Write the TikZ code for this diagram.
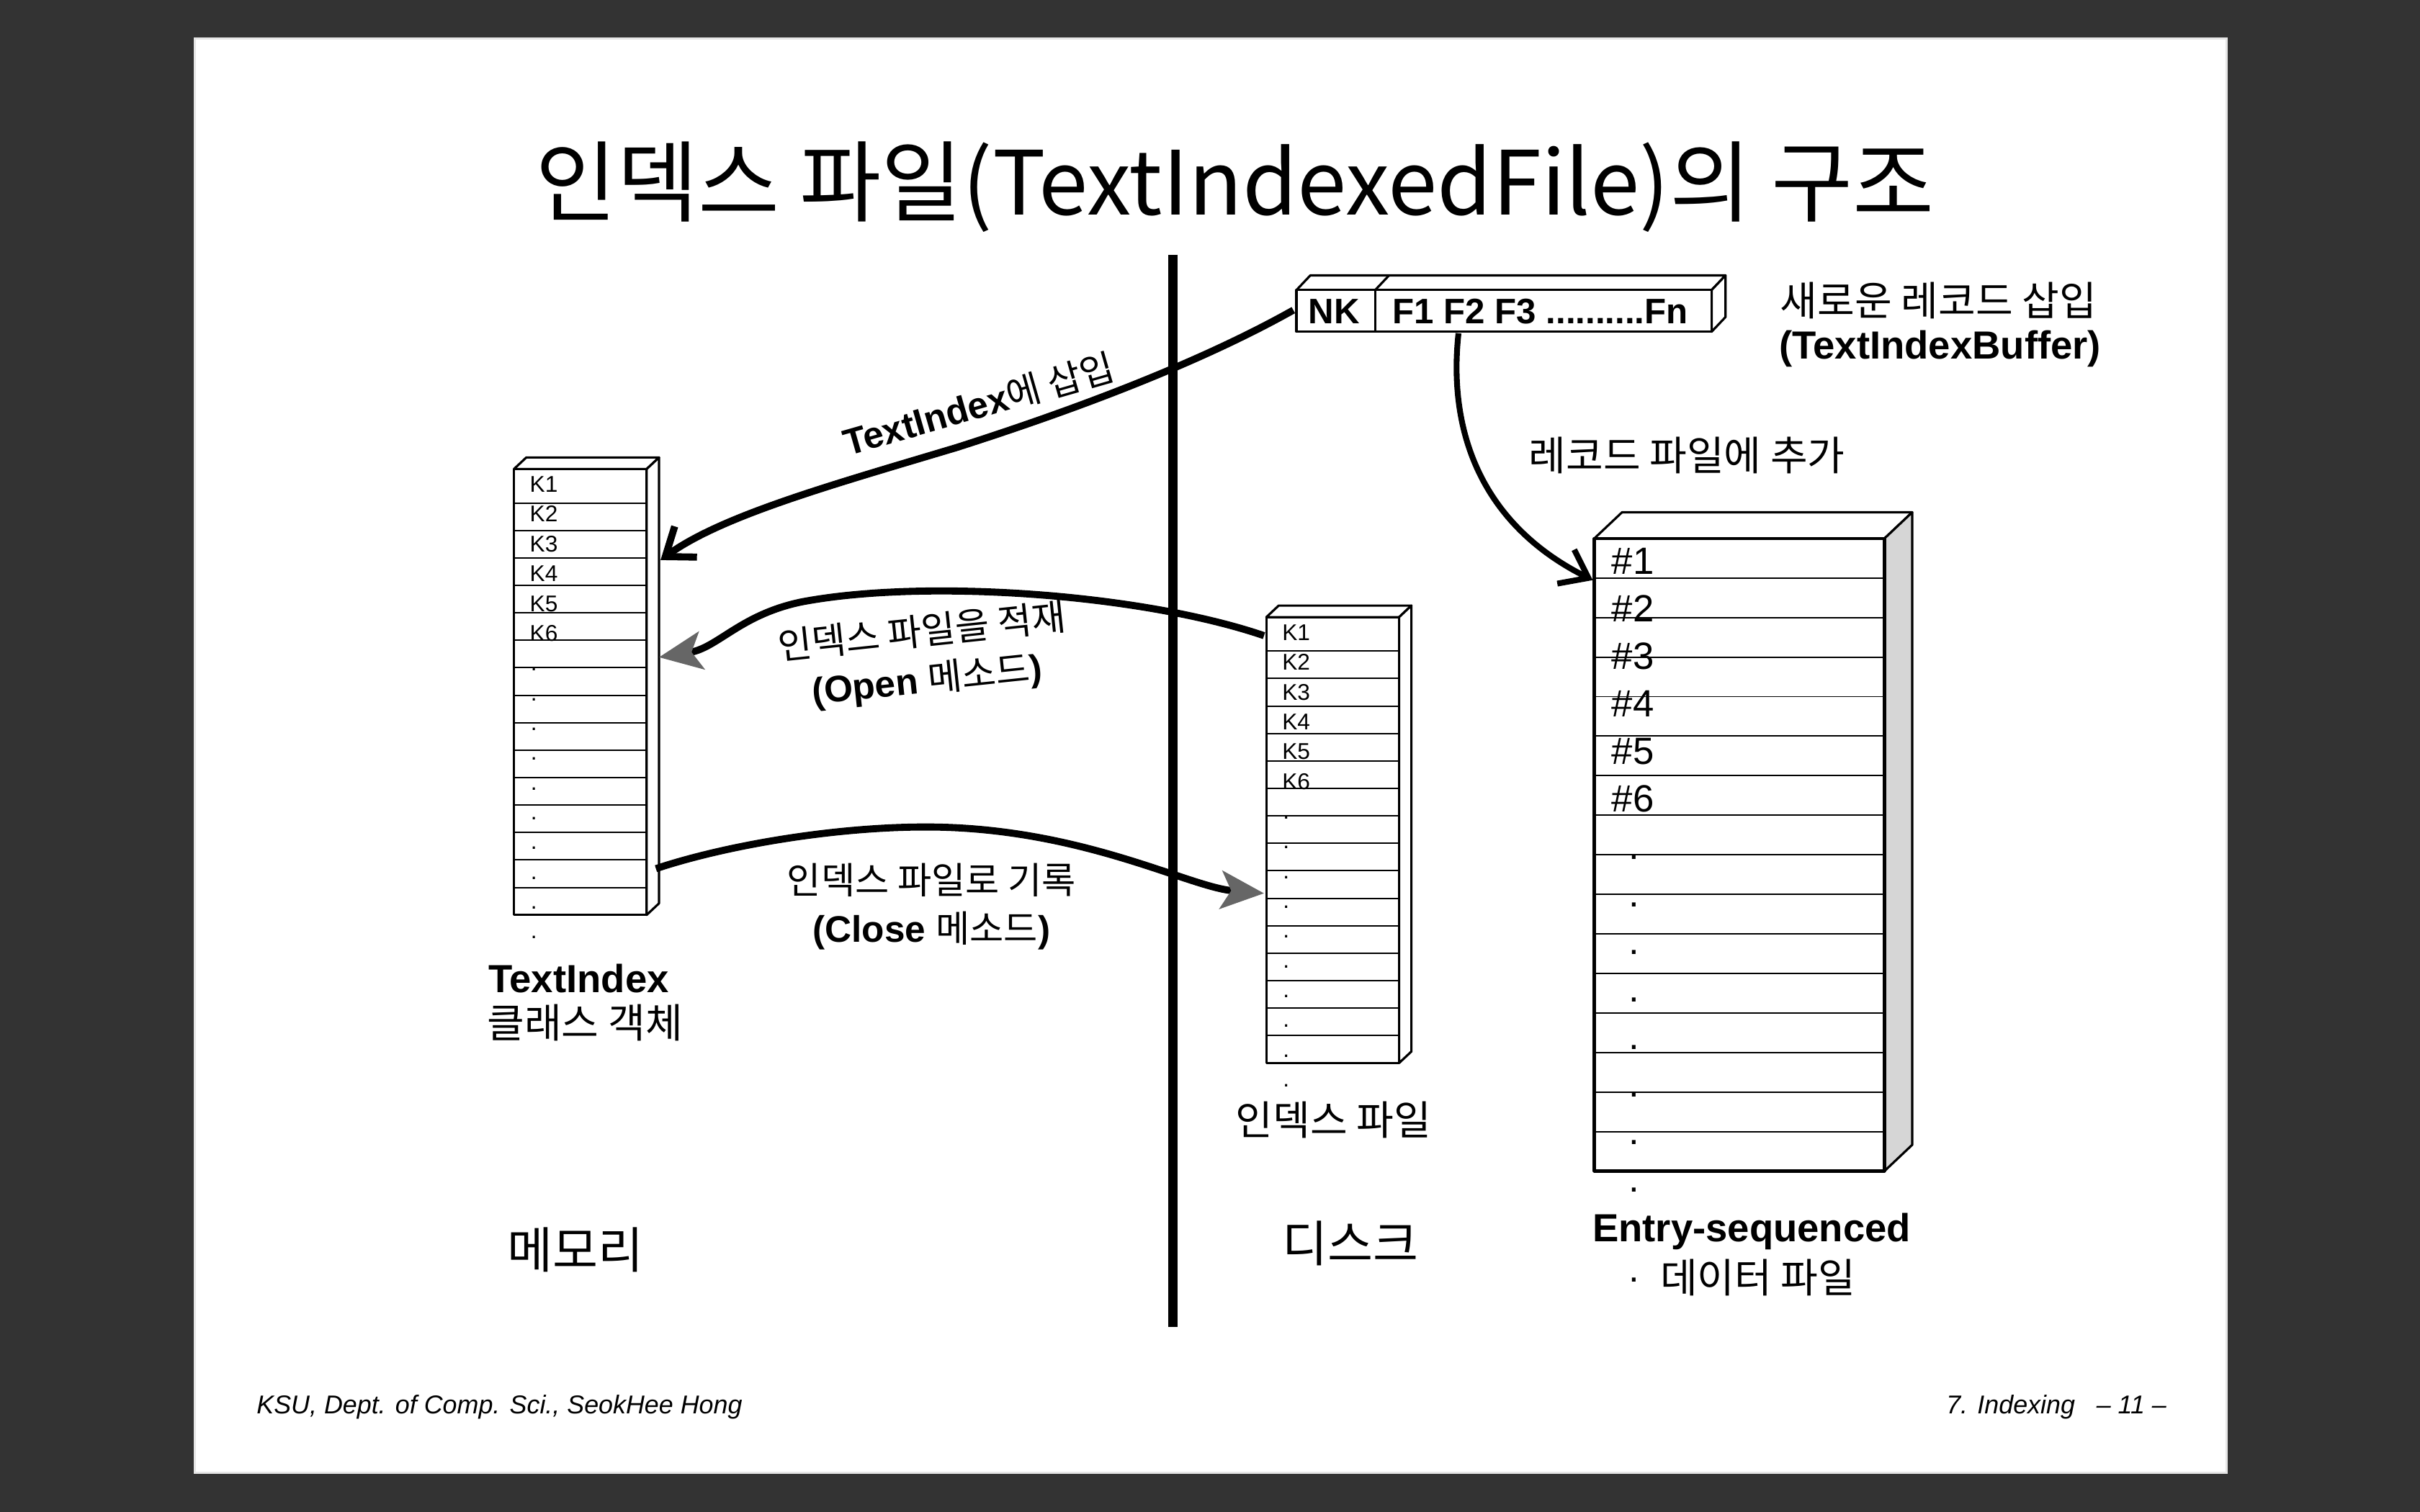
\documentclass[tikz,border=0pt]{standalone}
\usepackage{fontspec}
\setmainfont{Liberation Sans}
\newfontfamily\krfont{Noto Sans CJK KR}
\usetikzlibrary{arrows.meta}

\definecolor{deskgray}{HTML}{333333}
\definecolor{slideedge}{HTML}{E6E6E6}
\definecolor{sidegray}{HTML}{D6D6D6}
\definecolor{tipgray}{HTML}{666666}

\newcommand\setfs[1]{\fontsize{#1}{#1}\selectfont}

% A tall index table drawn as a box: front face, top and side faces,
% row separators, key labels K1..K6 and a column of dots.
% #1 = shift, #2 = name prefix
\newcommand\indexcolumn[2]{%
\begin{scope}[shift={#1}]
  \draw[face] (333,304) -- (341,296.5) -- (427,296.5) -- (419,304) -- cycle;
  \draw[face] (419,304) -- (427,296.5) -- (427,585.5) -- (419,593) -- cycle;
  \draw[face] (333,304) rectangle (419,593);
  \foreach \k in {0,...,14}
    \draw[rowline] (333,326+17.8*\k) -- (419,326+17.8*\k);
  \foreach \k in {1,...,6}
    \node[keytext] (#2-key\k) at (343,319+19.3*\k-19.3) {K\k};
  \foreach \k in {6,...,15}
    \node[keytext] (#2-dot\k) at (343.5,319+19.3*\k) {.};
\end{scope}}

\begin{document}
\begin{tikzpicture}[x=0.21429mm, y=-0.21429mm,
  face/.style={draw=black, line width=0.9pt, fill=white, line join=round},
  rowline/.style={draw=black, line width=0.55pt},
  keytext/.style={anchor=base west, inner sep=0pt, font=\setfs{9}},
  rectext/.style={anchor=base west, inner sep=0pt, font=\setfs{15}},
  krlabel/.style={inner sep=0pt, font=\krfont\setfs{16}},
  bflabel/.style={inner sep=0pt, font=\bfseries\setfs{15.5}},
  midlabel/.style={inner sep=0pt, font=\fontsize{14.6}{19}\selectfont},
  footer/.style={inner sep=0pt, font=\itshape\setfs{10.2}},
  flow/.style={draw=black, line width=2.8pt},
  barbtip/.style={-{Straight Barb[length=10pt,width=15pt]}},
  shadetip/.style={-{Stealth[length=17pt,width=15pt,inset=4pt,color=tipgray]}},
]

% page and slide
\fill[deskgray] (0,0) rectangle (1568,980);
\fill[slideedge] (125.5,24.3) rectangle (1443.6,955.1);
\fill[white] (127,25.6) rectangle (1442.2,953.8);
\useasboundingbox (0,0) rectangle (1568,980);

% title
\node[inner sep=0pt, font=\krfont\setfs{35}] (title) at (800,121)
  {인덱스 파일(TextIndexedFile)의 구조};

% memory / disk separator
\coordinate (sep-top) at (760,165);
\coordinate (sep-bot) at (760,860);
\draw[line width=3.6pt] (sep-top) -- (sep-bot);

% TextIndex object in memory and the index file on disk
\indexcolumn{(0,0)}{mem}
\indexcolumn{(487.5,96)}{disk}

% new record buffer
\draw[face] (840,188) -- (849,178.5) -- (1118,178.5) -- (1109,188) -- cycle;
\draw[face] (891,188) -- (900,178.5);
\draw[face] (1109,188) -- (1118,178.5) -- (1118,205.5) -- (1109,215) -- cycle;
\draw[face] (840,188) rectangle (1109,215);
\draw[face] (891,188) -- (891,215);
\node[inner sep=0pt, font=\bfseries\setfs{14}] (nk) at (864.5,202) {NK};
\node[inner sep=0pt, font=\bfseries\setfs{14}] (fields) at (998,202) {F1 F2 F3 ..........Fn};

% entry-sequenced data file
\draw[face] (1033,349) -- (1051,332) -- (1239,332) -- (1221,349) -- cycle;
\draw[face, fill=sidegray] (1221,349) -- (1239,332) -- (1239,742) -- (1221,759) -- cycle;
\draw[face, line width=1.2pt] (1033,349) rectangle (1221,759);
\foreach \k in {1,...,15}
  \draw[rowline] (1033,349+25.625*\k) -- (1221,349+25.625*\k);
\foreach \k in {1,...,6}
  \node[rectext] (rec\k) at (1044,372+30.8*\k-30.8) {\#\k};
\foreach \k in {7,...,14}
  \node[rectext] (recdot\k) at (1055,372+30.8*\k-30.8) {.};
\node[rectext] (recdot16) at (1055,831) {.};

% labels
\node[krlabel] (lbl-new) at (1256,195) {새로운 레코드 삽입};
\node[bflabel] (lbl-buf) at (1257,226) {(TextIndexBuffer)};
\node[krlabel] (lbl-append) at (1093,295) {레코드 파일에 추가};
\node[midlabel, rotate=16] (lbl-insert) at (634,262)
  {\bfseries TextIndex\krfont\mdseries 에 삽입};
\node[midlabel, rotate=6, align=center] (lbl-open) at (599,426)
  {\krfont 인덱스 파일을 적재\\
   \bfseries (Open \krfont\mdseries 메소드\bfseries\rmfamily )};
\node[midlabel, align=center] (lbl-close) at (603.5,587.5)
  {\krfont 인덱스 파일로 기록\\
   \bfseries (Close \krfont\mdseries 메소드\bfseries\rmfamily )};
\node[bflabel] (lbl-ti) at (375,634) {TextIndex};
\node[krlabel] (lbl-ti2) at (379,663) {클래스 객체};
\node[krlabel, font=\krfont\setfs{19.5}] (lbl-mem) at (373,810) {메모리};
\node[krlabel] (lbl-idx) at (864,726) {인덱스 파일};
\node[krlabel, font=\krfont\setfs{19.5}] (lbl-disk) at (875,806) {디스크};
\node[bflabel] (lbl-entry) at (1135,798) {Entry-sequenced};
\node[krlabel] (lbl-data) at (1139,828) {데이터 파일};

% footer
\node[footer, anchor=west] (foot-l) at (166,912) {KSU, Dept. of Comp. Sci., SeokHee Hong};
\node[footer, anchor=east] (foot-r) at (1404,912) {7. Indexing~~~– 11 –};

% connector end points
\coordinate (nk-out) at (838,201);
\coordinate (mem-in) at (428,363);
\coordinate (disk-out) at (819,412);
\coordinate (mem-load) at (427,426);
\coordinate (mem-save) at (425,563);
\coordinate (disk-in) at (819,579);
\coordinate (rec-out) at (945,216);
\coordinate (data-in) at (1032,376);

% insert into TextIndex
\draw[flow, barbtip] (nk-out) .. controls (790,228) and (720,258) .. (620,290)
  .. controls (540,314) and (468,334) .. (mem-in);
% Open: load index file
\draw[flow, shadetip] (disk-out) .. controls (740,385) and (600,375) .. (520,390)
  .. controls (480,398) and (465,420) .. (mem-load);
% Close: write index file
\draw[flow, shadetip] (mem-save) .. controls (470,548) and (540,536) .. (600,536)
  .. controls (700,536) and (770,575) .. (disk-in);
% append to record file
\draw[flow, line width=2.3pt, barbtip] (rec-out) .. controls (938,280) and (960,340) .. (data-in);

\end{tikzpicture}
\end{document}
